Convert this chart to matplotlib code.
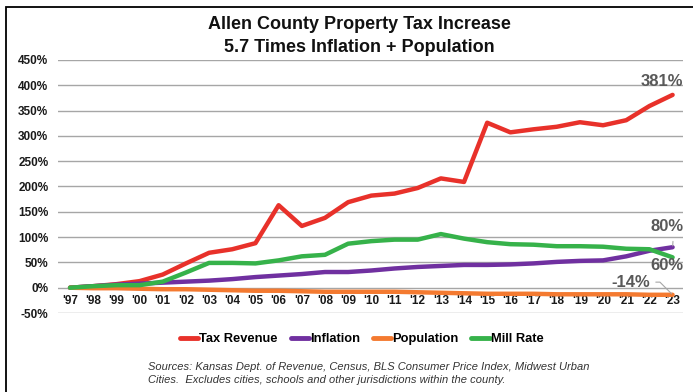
import numpy as np
import matplotlib
matplotlib.use("Agg")
import matplotlib.pyplot as plt
from matplotlib.patches import Rectangle
from matplotlib.ticker import FuncFormatter

# ------------------------------------------------------------
# Data: cumulative % change since 1997
# ------------------------------------------------------------
years = ["'97", "'98", "'99", "'00", "'01", "'02", "'03", "'04", "'05", "'06",
         "'07", "'08", "'09", "'10", "'11", "'12", "'13", "'14", "'15", "'16",
         "'17", "'18", "'19", "'20", "'21", "'22", "'23"]

tax_revenue = [0, 3, 7, 13, 26, 48, 69, 76, 88, 163, 122, 138, 169, 182, 186,
               197, 216, 209, 326, 307, 313, 318, 327, 321, 331, 359, 381]
inflation   = [0, 3, 6, 8, 10, 12, 14, 17, 21, 24, 27, 31, 31, 34, 38,
               41, 43, 45, 45, 46, 48, 51, 53, 54, 62, 73, 80]
population  = [0, -1, -1, -2, -3, -3, -4, -5, -6, -6, -7, -8, -8, -8, -8,
               -9, -10, -11, -12, -12, -12, -13, -13, -13, -13, -14, -14]
mill_rate   = [0, 3, 5, 5, 12, 30, 49, 49, 48, 54, 62, 65, 87, 92, 95,
               95, 106, 97, 90, 86, 85, 82, 82, 81, 77, 76, 60]

series = [
    ("Tax Revenue", tax_revenue, "#e8312a"),
    ("Inflation",   inflation,   "#7030a0"),
    ("Population",  population,  "#f47a30"),
    ("Mill Rate",   mill_rate,   "#36b24a"),
]

plt.rcParams['font.family'] = ['Liberation Sans', 'DejaVu Sans']

fig = plt.figure(figsize=(6.93, 3.92), dpi=100)
ax = fig.add_axes([0.0837, 0.2015, 0.9019, 0.6455])

x = np.arange(len(years))
for name, vals, col in series:
    ax.plot(x, vals, color=col, lw=3.2, label=name, solid_capstyle='round', zorder=3)

ax.set_xlim(-0.52, len(years) - 0.55)
ax.set_ylim(-50, 450)
ax.set_yticks(np.arange(-50, 451, 50))
ax.yaxis.set_major_formatter(FuncFormatter(lambda v, p: f"{v:.0f}%"))
ax.grid(axis='y', color='#a6a6a6', lw=1)
ax.set_axisbelow(True)
for s in ['top', 'right', 'left']:
    ax.spines[s].set_visible(False)
# category labels sit right under the zero line
ax.spines['bottom'].set_position(('data', 0))
ax.spines['bottom'].set_visible(False)
ax.set_xticks(x)
ax.set_xticklabels(years)
ax.tick_params(axis='x', length=0, pad=5, labelsize=8.5)
ax.tick_params(axis='y', length=0, pad=7, labelsize=8.5)
for lbl in ax.get_xticklabels() + ax.get_yticklabels():
    lbl.set_fontweight('bold')
    lbl.set_color('#1a1a1a')

# end-point labels
lab_kw = dict(fontsize=12, color='#595959', fontweight='bold', ha='center', va='center')
last = len(years) - 1
ax.annotate(f"{tax_revenue[-1]}%", xy=(last, tax_revenue[-1]), xytext=(25.55, 407), **lab_kw)
ax.annotate(f"{inflation[-1]}%", xy=(last, inflation[-1]), xytext=(25.75, 120),
            arrowprops=dict(arrowstyle='-', color='#a6a6a6', lw=0.8, shrinkA=3, shrinkB=1,
                            relpos=(0.7, 0)), **lab_kw)
ax.annotate(f"{mill_rate[-1]}%", xy=(last, mill_rate[-1]), xytext=(25.75, 44), **lab_kw)
ax.annotate(f"{population[-1]}%", xy=(last, population[-1]), xytext=(24.2, 11),
            arrowprops=dict(arrowstyle='-', color='#a6a6a6', lw=0.8, shrinkA=2, shrinkB=1,
                            relpos=(1, 0.5), connectionstyle="angle,angleA=0,angleB=135,rad=0"),
            **lab_kw)

# title
fig.text(0.518, 0.937, "Allen County Property Tax Increase", ha='center', va='center',
         fontsize=13, fontweight='bold', color='#111111')
fig.text(0.518, 0.878, "5.7 Times Inflation + Population", ha='center', va='center',
         fontsize=13, fontweight='bold', color='#111111')

# legend
leg = fig.legend(loc='center', bbox_to_anchor=(0.522, 0.135), ncol=4, frameon=False,
                 handlelength=1.4, handletextpad=0.1, columnspacing=1.0,
                 prop=dict(family=['Liberation Sans Narrow', 'Liberation Sans'],
                           weight='bold', size=9.3))
for h in leg.get_lines():
    h.set_linewidth(3.5)

# source note
fig.text(0.2136, 0.047, "Sources: Kansas Dept. of Revenue, Census, BLS Consumer Price Index, Midwest Urban\n"
         "Cities.  Excludes cities, schools and other jurisdictions within the county.",
         ha='left', va='center', fontsize=8, style='italic', color='#333333',
         linespacing=1.45, family=['Liberation Sans Narrow', 'Liberation Sans'])

# outer frame
fig.patches.append(Rectangle((6 / 693, -0.2), 1.2, 1.2 - 7 / 392, transform=fig.transFigure,
                             fill=False, ec='black', lw=1.3))

fig.savefig("out.png", dpi=100)
